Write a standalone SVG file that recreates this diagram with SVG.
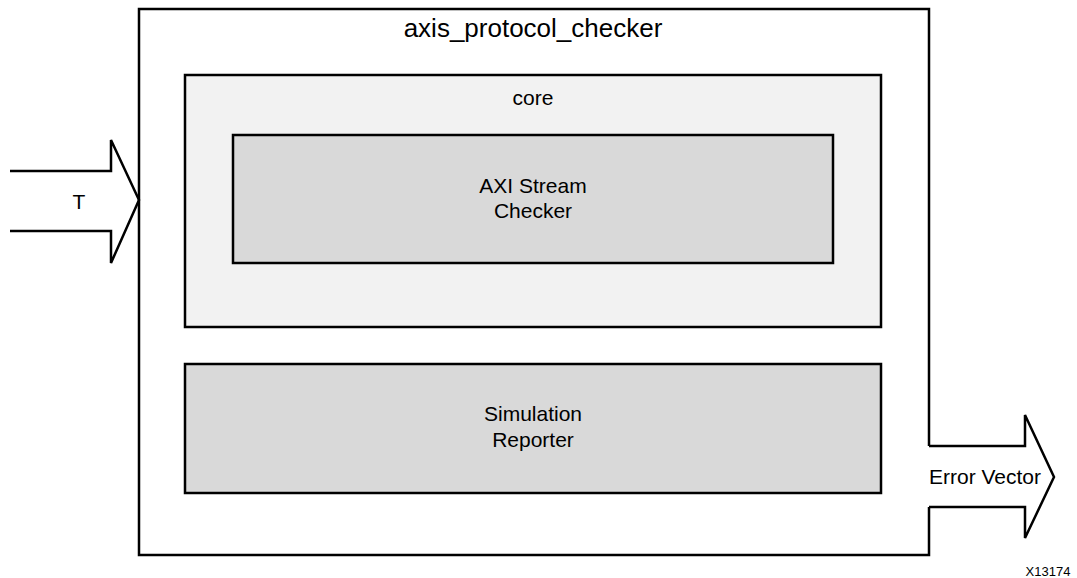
<svg xmlns="http://www.w3.org/2000/svg" width="1077" height="578" viewBox="0 0 1077 578">
<style>
  text { font-family: "Liberation Sans", Arial, sans-serif; fill: #000; text-anchor: middle; }
  .box { stroke: #000; stroke-width: 2.5; }
  .line { fill: none; stroke: #000; stroke-width: 2.5; stroke-linejoin: miter; }
  .lbl { font-size: 21px; }
</style>
<rect width="1077" height="578" fill="#fff"/>
<g id="axis_protocol_checker">
  <path class="line" d="M929,446 L929,9 L139,9 L139,555 L929,555 L929,507"/>
  <text x="533" y="37" style="font-size:26px">axis_protocol_checker</text>
</g>
<g id="core">
  <rect class="box" x="185" y="75" width="696" height="252" fill="#f2f2f2"/>
  <text class="lbl" x="533" y="105">core</text>
</g>
<g id="axi_stream_checker">
  <rect class="box" x="233" y="135" width="600" height="128" fill="#d9d9d9"/>
  <text class="lbl" x="533" y="193">AXI Stream</text>
  <text class="lbl" x="533" y="218">Checker</text>
</g>
<g id="simulation_reporter">
  <rect class="box" x="185" y="364" width="696" height="129" fill="#d9d9d9"/>
  <text class="lbl" x="533" y="421">Simulation</text>
  <text class="lbl" x="533" y="447">Reporter</text>
</g>
<g id="connectors">
  <g id="input_T">
    <path class="line" d="M10,171 L111,171 L111,140 L139,200 L111,263 L111,231 L10,231"/>
    <text class="lbl" x="79" y="209">T</text>
  </g>
  <g id="output_error_vector">
    <path class="line" d="M929,446 L1025,446 L1025,415 L1054,477 L1025,538 L1025,507 L929,507"/>
    <text class="lbl" x="985" y="484">Error Vector</text>
  </g>
</g>
<text x="1048" y="576" style="font-size:13px">X13174</text>
</svg>
